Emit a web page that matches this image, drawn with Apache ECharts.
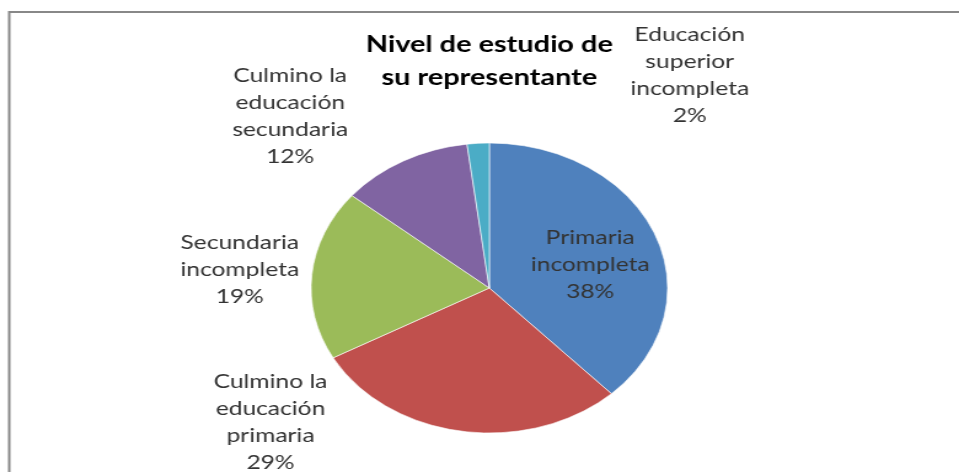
<!DOCTYPE html>
<html>
<head>
<meta charset="utf-8">
<script src="https://cdn.jsdelivr.net/npm/echarts@6/dist/echarts.min.js"></script>
<style>
  html, body { margin: 0; padding: 0; background: #fff; overflow: hidden; }
  /* the reference is stretched horizontally, so draw narrower and stretch */
  #chart { width: 780px; height: 472px; transform: scaleX(1.2295); transform-origin: 0 0; }
</style>
</head>
<body>
<div id="chart"></div>
<script>
const categories = [
  'Primaria\nincompleta',
  'Culmino la\neducación\nprimaria',
  'Secundaria\nincompleta',
  'Culmino la\neducación\nsecundaria',
  'Educación\nsuperior\nincompleta'
]
const values = [38, 29, 19, 12, 2]
const colors = ['#4F81BD', '#C0504D', '#9BBB59', '#8064A2', '#4BACC6']

// label centres (chart px, before stretch)
const labelPos = [[480, 265], [220, 422], [195, 270], [236, 116], [561, 75]]

const chart = echarts.init(document.getElementById('chart'))

const option = {
  animation: false,
  backgroundColor: '#fff',
  color: colors,
  title: {
    text: 'Nivel de estudio de\nsu representante',
    left: 398,
    top: 28,
    padding: 0,
    textAlign: 'center',
    textStyle: {
      fontFamily: 'Lato',
      fontWeight: 'bold',
      fontSize: 23.5,
      lineHeight: 33,
      color: '#000'
    }
  },
  graphic: [
    {
      type: 'polyline',
      shape: { points: [[7.5, 472], [7.5, 12], [780, 12]] },
      style: { stroke: '#888', lineWidth: 2, fill: null }
    }
  ],
  series: [{
    type: 'pie',
    center: [398, 288],
    radius: 145,
    startAngle: 90,
    clockwise: true,
    percentPrecision: 0,
    data: categories.map((name, i) => ({ name, value: values[i] })),
    itemStyle: { borderColor: 'rgba(255,255,255,0.6)', borderWidth: 1 },
    label: {
      show: true,
      formatter: '{b}\n{d}%',
      fontFamily: 'Lato',
      fontSize: 20,
      lineHeight: 27,
      color: '#333',
      align: 'center'
    },
    labelLine: { show: false },
    labelLayout: (params) => ({
      x: labelPos[params.dataIndex][0],
      y: labelPos[params.dataIndex][1],
      align: 'center',
      verticalAlign: 'middle'
    }),
    emphasis: { disabled: true }
  }]
}

chart.setOption(option)
</script>
</body>
</html>
